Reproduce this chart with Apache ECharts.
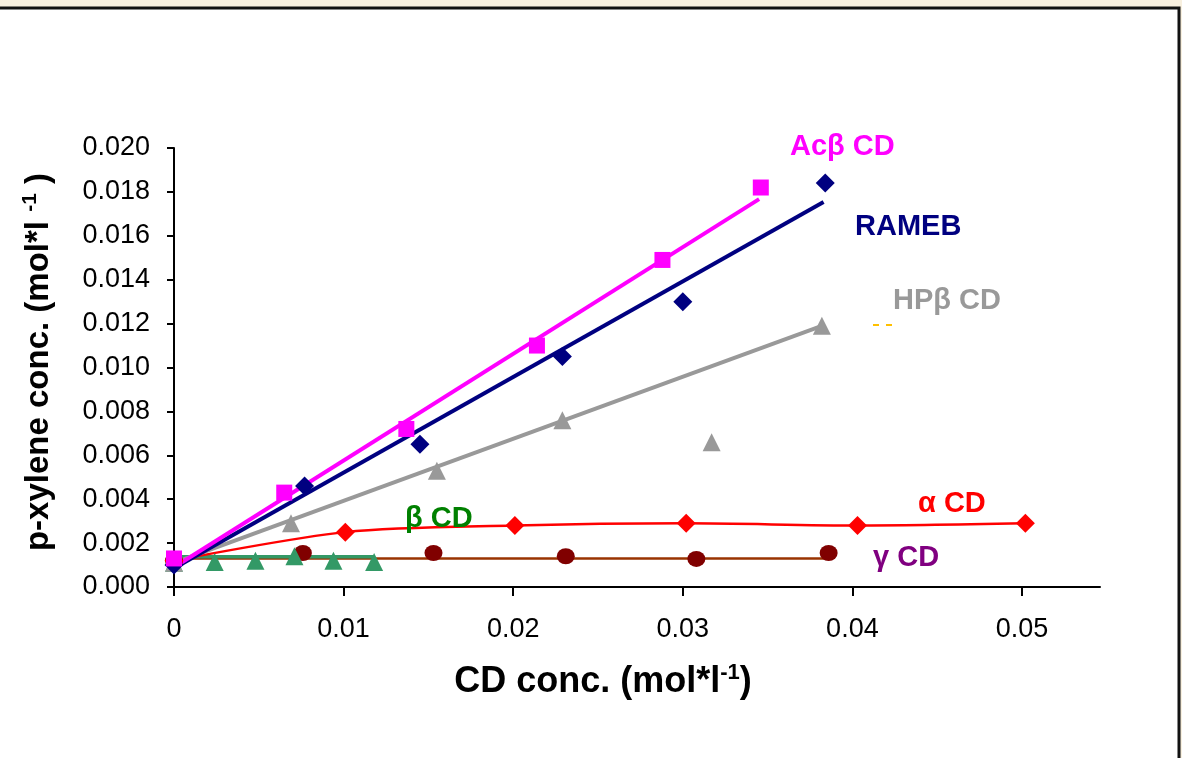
<!DOCTYPE html>
<html>
<head>
<meta charset="utf-8">
<script src="https://cdn.jsdelivr.net/npm/echarts@6/dist/echarts.min.js"></script>
<style>
  html, body {margin: 0; padding: 0; background: #f8f0df;}
  #chart {width: 1182px; height: 758px;}
</style>
</head>
<body>
<div id="chart"></div>
<script>
// tick labels
var xTicks = [0, 0.01, 0.02, 0.03, 0.04, 0.05];

// Ac beta CD
var acX = [0, 0.0065, 0.0137, 0.0214, 0.0288, 0.0346];
var acY = [0.0013, 0.0043, 0.0072, 0.0110, 0.0149, 0.0182];
var acFitX = [0, 0.0345];
var acFitY = [0.0009, 0.01767];

// RAMEB
var rmX = [0, 0.0077, 0.0145, 0.0229, 0.0300, 0.0384];
var rmY = [0.0010, 0.0046, 0.0065, 0.0105, 0.0130, 0.0184];
var rmFitX = [0, 0.0383];
var rmFitY = [0.00085, 0.01754];

// HP beta CD
var hpX = [0, 0.0069, 0.0155, 0.0229, 0.0317, 0.0382];
var hpY = [0.0011, 0.0029, 0.0053, 0.0076, 0.0066, 0.0119];
var hpFitX = [0, 0.0382];
var hpFitY = [0.0011, 0.0119];

// alpha CD
var alX = [0, 0.0101, 0.0201, 0.0302, 0.0403, 0.0502];
var alY = [0.0012, 0.0025, 0.0028, 0.0029, 0.0028, 0.0029];

// gamma CD
var gaX = [0, 0.0076, 0.0153, 0.0231, 0.0308, 0.0386];
var gaY = [0.0012, 0.00155, 0.00155, 0.0014, 0.00128, 0.00155];
var gaFitX = [0, 0.0386];
var gaFitY = [0.0013, 0.0013];

// beta CD
var beX = [0, 0.0024, 0.0048, 0.0071, 0.0094, 0.0118];
var beY = [0.0011, 0.00114, 0.0012, 0.0014, 0.0012, 0.00114];
var beFitX = [0, 0.0118];
var beFitY = [0.00138, 0.00138];

function pairs(xs, ys) {
    return xs.map(function(x, i) { return [x, ys[i]]; });
}

var chart = echarts.init(document.getElementById('chart'));
var font = '"Liberation Sans", Arial, sans-serif';

function lineSeries(xs, ys, color, width, smooth) {
    return {
        type: 'line', data: pairs(xs, ys), symbol: 'none', smooth: smooth || false,
        lineStyle: {color: color, width: width}, clip: false, silent: true, z: 2
    };
}
function markSeries(xs, ys, symbol, size, color) {
    return {
        type: 'scatter', data: pairs(xs, ys), symbol: symbol, symbolSize: size,
        itemStyle: {color: color, opacity: 1}, clip: false, silent: true, z: 3
    };
}
function label(text, x, y, color) {
    return {
        type: 'text', x: x, y: y, z: 10,
        style: {text: text, fill: color, font: 'bold 29px ' + font, textVerticalAlign: 'middle'}
    };
}

chart.setOption({
    animation: false,
    backgroundColor: '#f8f0df',
    grid: {left: 174, right: 82, top: 148, bottom: 171},
    xAxis: {
        type: 'value', min: 0, max: 0.0546,
        splitLine: {show: false},
        axisLine: {lineStyle: {color: '#000', width: 2}},
        axisTick: {show: true, length: 9, lineStyle: {color: '#000', width: 2}, customValues: xTicks},
        axisLabel: {
            customValues: xTicks, margin: 29, color: '#000', fontSize: 27, fontFamily: font,
            formatter: function(v) { return v === 0 ? '0' : v.toFixed(2); }
        }
    },
    yAxis: {
        type: 'value', min: 0, max: 0.02, interval: 0.002,
        splitLine: {show: false},
        axisLine: {show: true, lineStyle: {color: '#000', width: 2}},
        axisTick: {show: true, length: 7, lineStyle: {color: '#000', width: 2}},
        axisLabel: {
            margin: 24, color: '#000', fontSize: 27, fontFamily: font,
            formatter: function(v) { return v.toFixed(3); }
        }
    },
    graphic: [
        {type: 'rect', z: -10, shape: {x: -10, y: 8, width: 1189, height: 770},
            style: {fill: '#fff', stroke: '#111', lineWidth: 3}},
        {type: 'text', x: 603, y: 682, z: 10,
            style: {
                rich: {
                    t: {font: 'bold 36px ' + font, fill: '#000'},
                    s: {font: 'bold 22px ' + font, fill: '#000', padding: [0, 0, 18, 0]}
                },
                text: '{t|CD conc. (mol*l}{s|-1}{t|)}', textAlign: 'center', textVerticalAlign: 'middle'
            }},
        {type: 'text', x: 39, y: 362, rotation: Math.PI / 2, z: 10,
            style: {
                rich: {
                    t: {font: 'bold 33px ' + font, fill: '#000'},
                    s: {font: 'bold 21px ' + font, fill: '#000', padding: [0, 0, 18, 0]}
                },
                text: '{t|p-xylene conc. (mol*l }{s|-1}{t| )}', textAlign: 'center', textVerticalAlign: 'middle'
            }},
        label('Ac\u03b2 CD', 790, 147, '#ff00ff'),
        label('RAMEB', 855, 227, '#000080'),
        label('HP\u03b2 CD', 893, 301, '#999999'),
        label('\u03b1 CD', 918, 504, '#ff0000'),
        label('\u03b3 CD', 873, 558, '#800080'),
        label('\u03b2 CD', 405, 519, '#008000'),
        {type: 'line', z: 10, shape: {x1: 873, y1: 325, x2: 879, y2: 325}, style: {stroke: '#ffc000', lineWidth: 2}},
        {type: 'line', z: 10, shape: {x1: 886, y1: 325, x2: 892, y2: 325}, style: {stroke: '#ffc000', lineWidth: 2}}
    ],
    series: [
        lineSeries(gaFitX, gaFitY, '#993300', 2.5),
        lineSeries(beFitX, beFitY, '#339966', 3.5),
        lineSeries(alX, alY, '#ff0000', 2.5, 0.3),
        lineSeries(hpFitX, hpFitY, '#999999', 4),
        lineSeries(rmFitX, rmFitY, '#000080', 4),
        lineSeries(acFitX, acFitY, '#ff00ff', 4),
        markSeries(gaX, gaY, 'circle', [18, 16], '#800000'),
        markSeries(beX, beY, 'triangle', 18, '#339966'),
        markSeries(alX, alY, 'diamond', 19, '#ff0000'),
        markSeries(hpX, hpY, 'triangle', 18, '#999999'),
        markSeries(rmX, rmY, 'diamond', 19, '#000080'),
        markSeries(acX, acY, 'rect', 16, '#ff00ff')
    ]
});
</script>
</body>
</html>
